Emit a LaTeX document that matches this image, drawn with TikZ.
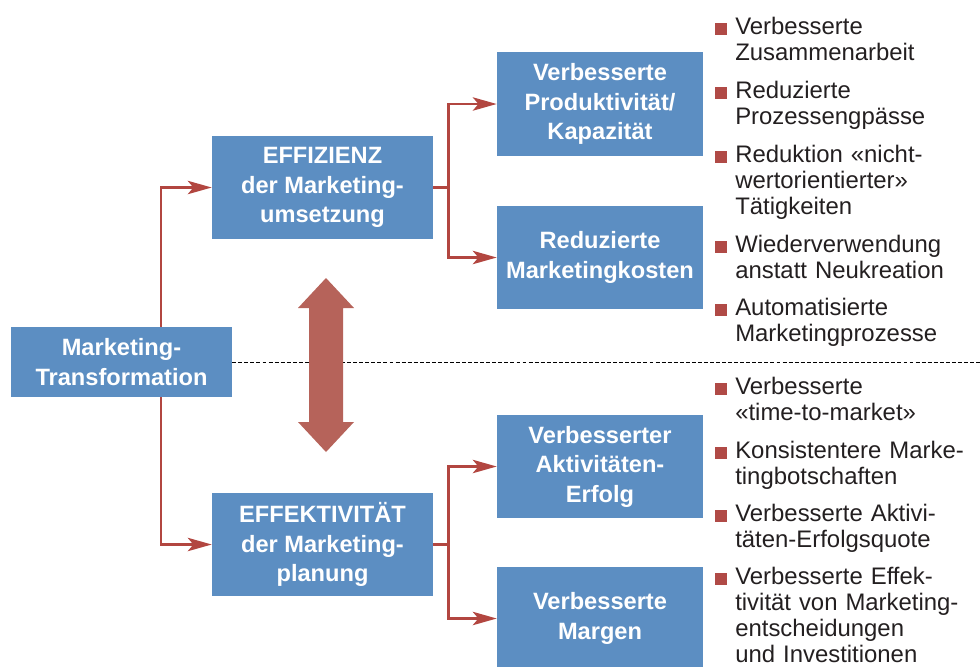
\documentclass[tikz,border=0pt]{standalone}
\usepackage{fontspec}
\setmainfont{Liberation Sans}
\usetikzlibrary{arrows.meta, calc}
\definecolor{boxblue}{RGB}{92,142,194}
\definecolor{linered}{RGB}{178,70,64}
\definecolor{arrowred}{RGB}{182,99,90}
\definecolor{bullred}{RGB}{176,74,70}
\definecolor{textgray}{RGB}{35,31,32}
\tikzstyle{block} = [rectangle, fill=boxblue, text=white, align=center,
    font=\fontsize{16.8}{21}\selectfont\bfseries,
    minimum width=5.525cm, minimum height=2.575cm, inner sep=0pt]
\tikzstyle{mainblock} = [block, minimum height=1.75cm]
\tikzstyle{subblock} = [block, minimum width=5.15cm]
\tikzstyle{line} = [draw=linered, line width=1.8pt,
    -{Stealth[length=17pt, width=9.5pt, inset=4pt]}]
\tikzstyle{item} = [anchor=base west, text width=6.5cm, align=left, inner sep=0pt,
    text=textgray, font=\fontsize{17}{18.5}\selectfont]
\tikzstyle{bullet} = [fill=bullred]

\begin{document}
\begin{tikzpicture}[x=0.025cm, y=-0.025cm]
\useasboundingbox (0,0) rectangle (980,666);
\node[mainblock] (trans) at (121.5,362) {Marketing-\\Transformation};
\node[block] (effiz) at (322.5,187.5) {EFFIZIENZ\\der Marketing-\\umsetzung};
\node[block] (effekt) at (322.5,544.5) {EFFEKTIVITÄT\\der Marketing-\\planung};
\node[subblock] (prod) at (600,104) {Verbesserte\\Produktivität/\\Kapazität};
\node[subblock] (kost) at (600,257.5) {Reduzierte\\Marketingkosten};
\node[subblock] (erfolg) at (600,466.5) {Verbesserter\\Aktivitäten-\\Erfolg};
\node[subblock] (margen) at (600,618.5) {Verbesserte\\Margen};
\coordinate (fork) at (161,0);
\coordinate (rim) at (980,0);
% main branches
\path [line] (trans.north -| fork) |- (effiz.west);
\path [line] (trans.south -| fork) |- (effekt.west);
\path [line] (effiz.east) -- ++(15,0) |- (prod.west);
\path [line] (effiz.east) -- ++(15,0) |- (kost.west);
\path [line] (effekt.east) -- ++(15,0) |- (erfolg.west);
\path [line] (effekt.east) -- ++(15,0) |- (margen.west);
\draw[black, line width=0.7pt, dash pattern=on 2.8pt off 1.5pt] (trans.east) -- (trans.east -| rim);
% double arrow between the two levers
\fill[arrowred] (326,278) -- (354,308) -- (343,308) -- (343,422) -- (354,422)
    -- (326,452) -- (298,422) -- (309,422) -- (309,308) -- (298,308) -- cycle;
% results
\foreach \y/\t [count=\i] in {34/{Verbesserte\\Zusammenarbeit},
    98/{Reduzierte\\Prozessengpässe},
    162/{Reduktion «nicht-\\wertorientierter»\\Tätigkeiten},
    252/{Wiederverwendung\\anstatt Neukreation},
    315/{Automatisierte\\Marketingprozesse},
    394/{Verbesserte\\«time-to-market»},
    458/{Konsistentere Marke-\\tingbotschaften},
    521/{Verbesserte Aktivi-\\täten-Erfolgsquote},
    584/{Verbesserte Effek-\\tivität von Marketing-\\entscheidungen\\und Investitionen}}
{
    \node[item] (res\i) at (735,\y) {\t};
    \fill[bullet] ($(res\i.base west)+(-20,1)$) rectangle ++(12,-12);
}
\end{tikzpicture}
\end{document}
